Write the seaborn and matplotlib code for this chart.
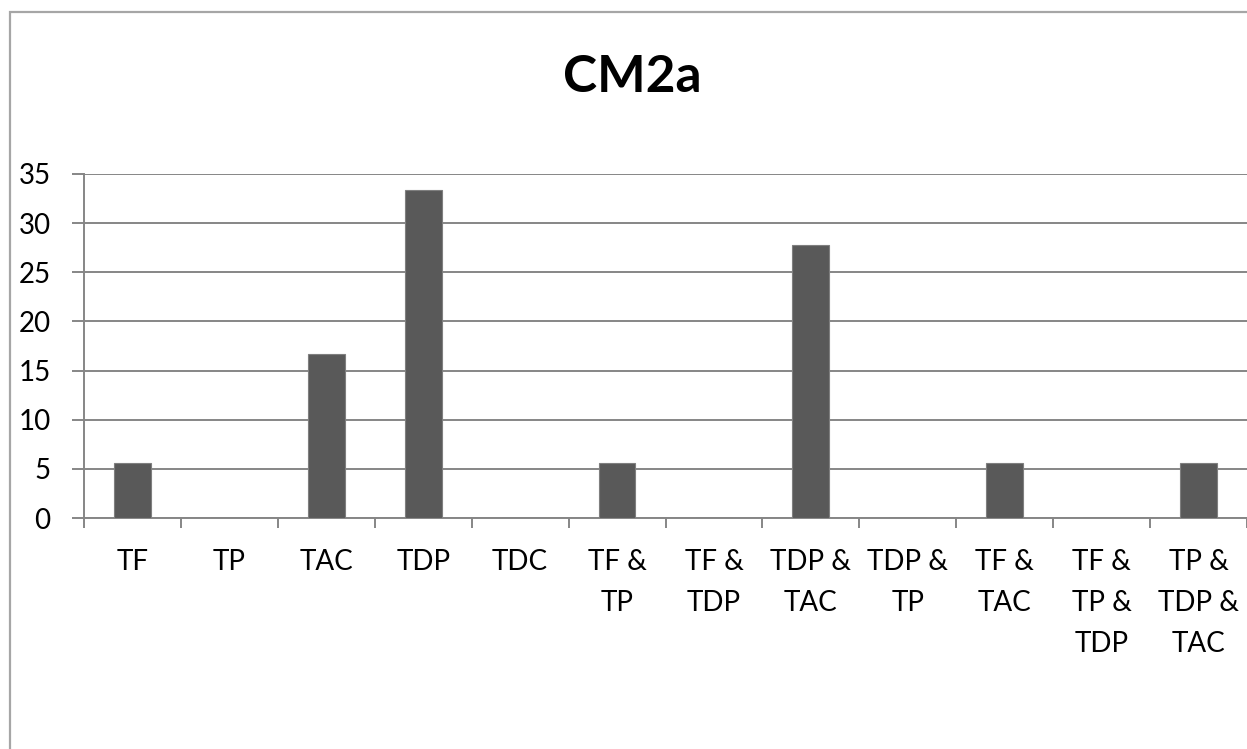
import matplotlib
matplotlib.use("Agg")
import matplotlib.pyplot as plt
import seaborn as sns
import numpy as np
from matplotlib.patches import Rectangle

# data (percent of 18 cases)
categories = ["TF", "TP", "TAC", "TDP", "TDC", "TF &\nTP", "TF &\nTDP", "TDP &\nTAC",
              "TDP &\nTP", "TF &\nTAC", "TF &\nTP &\nTDP", "TP &\nTDP &\nTAC"]
values = [5.56, 0, 16.67, 33.33, 0, 5.56, 0, 27.78, 0, 5.56, 0, 5.56]
y_ticks = [0, 5, 10, 15, 20, 25, 30, 35]
title = "CM2a"

sns.set_style("white")
plt.rcParams['font.family'] = ['Lato', 'DejaVu Sans']

fig = plt.figure(figsize=(12.47, 7.49), dpi=100)
ax = fig.add_axes([0.0674, 0.3084, 0.9326, 0.4593])

sns.barplot(x=categories, y=values, color="#595959", width=0.38, saturation=1,
            edgecolor="#7f7f7f", linewidth=0.8, ax=ax, zorder=3)

ax.set_ylim(0, 35)
ax.set_xlim(-0.5, len(categories) - 0.5)
ax.set_yticks(y_ticks)
ax.yaxis.grid(True, color="#868686", linewidth=1.4, zorder=0)
ax.set_axisbelow(True)

for s in ["top", "right"]:
    ax.spines[s].set_visible(False)
for s in ["left", "bottom"]:
    ax.spines[s].set_color("#868686")
    ax.spines[s].set_linewidth(1.4)

ax.tick_params(axis="y", length=9, width=1.4, color="#868686", pad=15,
               labelsize=20, labelcolor="black", left=True)
ax.tick_params(axis="x", which="major", length=0, pad=22, labelsize=20,
               labelcolor="black")
ax.set_xticks(np.arange(-0.5, len(categories), 1.0), minor=True)
ax.tick_params(axis="x", which="minor", length=7, width=1.4, color="#868686",
               bottom=True)
for lbl in ax.get_xticklabels():
    lbl.set_linespacing(1.72)
    lbl.set_verticalalignment("top")

fig.text(0.507, 0.897, title, ha="center", va="center", fontsize=37,
         fontweight="bold", color="black")

# chart frame (Excel style border, cut off at right/bottom)
fig.patches.append(Rectangle((10 / 1247, -0.1), 1.2, 0.1 + (749 - 12) / 749,
                             transform=fig.transFigure, fill=False,
                             edgecolor="#a6a6a6", linewidth=1.6))

fig.savefig("out.png", dpi=100, facecolor="white")
